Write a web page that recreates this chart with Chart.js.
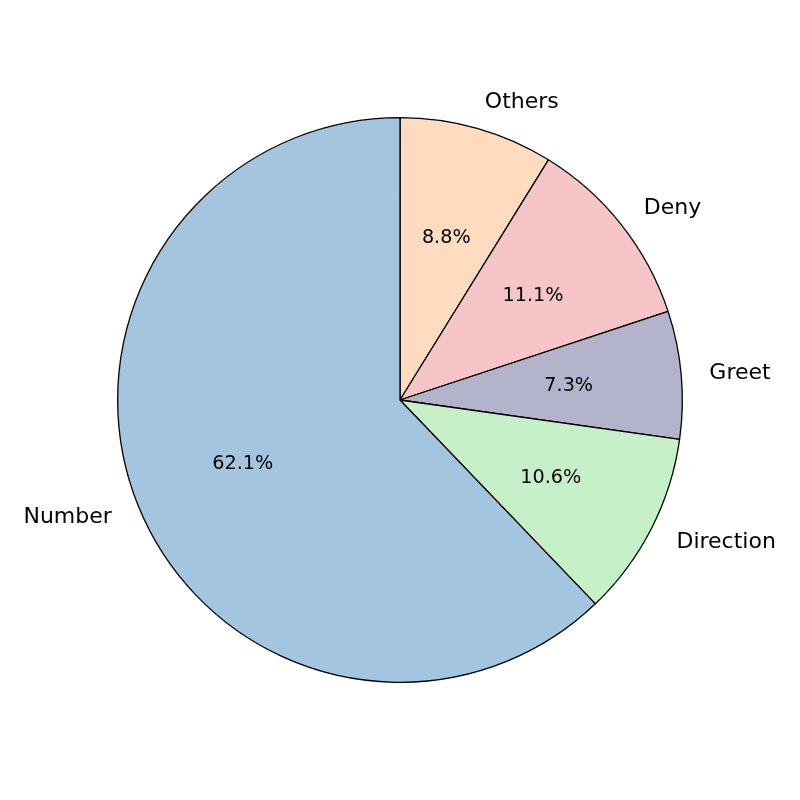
<!DOCTYPE html>
<html>
<head>
<meta charset="utf-8">
<script src="https://cdn.jsdelivr.net/npm/chart.js@4/dist/chart.umd.min.js"></script>
<style>
    html, body { margin: 0; padding: 0; background: #ffffff; }
    #pieChart { display: block; }
</style>
</head>
<body>
<canvas id="pieChart" width="800" height="800"></canvas>
<script>
// Données du graphique (ordre horaire depuis le haut)
const categories = ['Others', 'Deny', 'Greet', 'Direction', 'Number'];
const percentages = [8.8, 11.1, 7.3, 10.6, 62.1];
const sliceColors = ['#ffdbbf', '#f6c5c8', '#b3b3cc', '#c6f0c8', '#a3c5e0'];

// Plugin pour dessiner les libellés et les pourcentages
const sliceLabels = {
    id: 'sliceLabels',
    afterDraw(chart) {
        const ctx = chart.ctx;
        const meta = chart.getDatasetMeta(0);
        ctx.save();
        ctx.fillStyle = '#000000';
        ctx.textBaseline = 'middle';
        meta.data.forEach(function(arc, i) {
            const mid = (arc.startAngle + arc.endAngle) / 2;
            const cos = Math.cos(mid);
            const sin = Math.sin(mid);

            // Libellé à l'extérieur
            const rLabel = arc.outerRadius * 1.1;
            ctx.font = '22px "DejaVu Sans"';
            ctx.textAlign = cos >= 0 ? 'left' : 'right';
            ctx.fillText(categories[i], arc.x + rLabel * cos, arc.y + rLabel * sin + 1);

            // Pourcentage à l'intérieur
            const rPct = arc.outerRadius * 0.6;
            ctx.font = '19.2px "DejaVu Sans"';
            ctx.textAlign = 'center';
            ctx.fillText(percentages[i].toFixed(1) + '%', arc.x + rPct * cos, arc.y + rPct * sin + 1);
        });
        ctx.restore();
    }
};

new Chart(document.getElementById('pieChart').getContext('2d'), {
    type: 'pie',
    data: {
        labels: categories,
        datasets: [{
            data: percentages,
            backgroundColor: sliceColors,
            borderColor: '#000000',
            borderWidth: 1.3
        }]
    },
    options: {
        responsive: false,
        animation: false,
        rotation: 0,
        layout: { padding: 117 },
        plugins: {
            legend: { display: false },
            tooltip: { enabled: false }
        }
    },
    plugins: [sliceLabels]
});
</script>
</body>
</html>
